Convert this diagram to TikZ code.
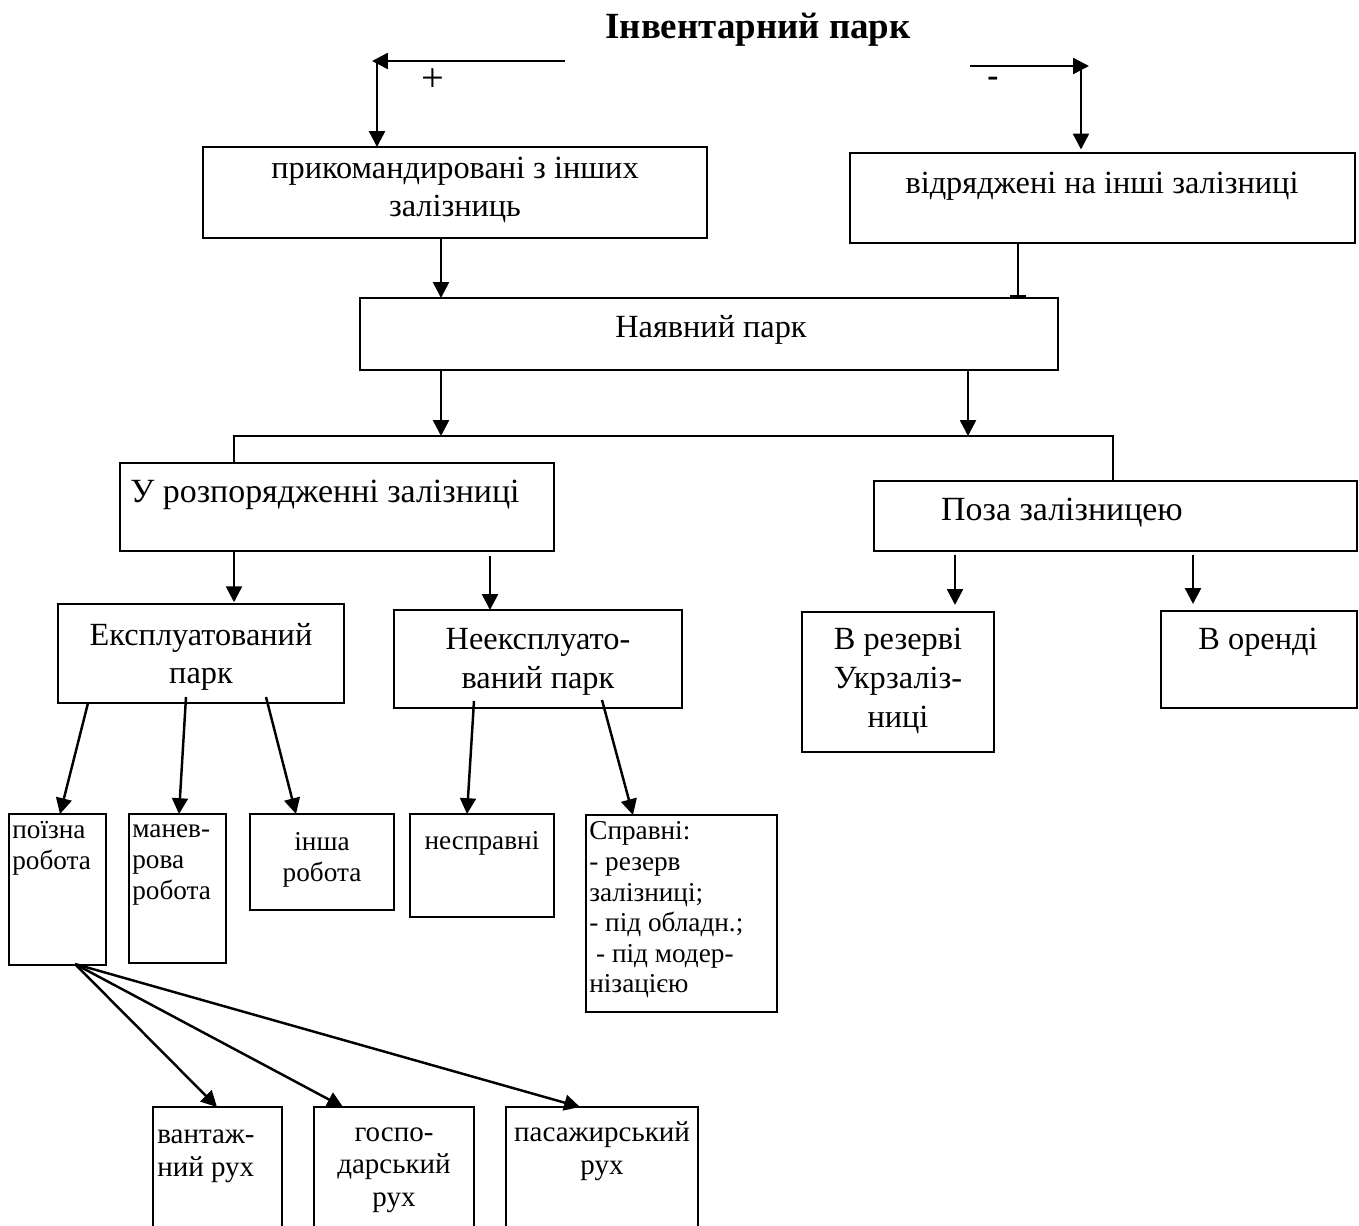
\documentclass[tikz,border=0pt]{standalone}
\usepackage{fontspec}
\setmainfont{Liberation Serif}
\usetikzlibrary{arrows.meta,calc}
\newcommand\mkbox[5]{\node[bx, minimum width={(#4-#2)*0.02cm}, minimum height={(#5-#3)*0.02cm}] (#1) at (#2,#3) {};}
\begin{document}
\begin{tikzpicture}[x=0.02cm,y=-0.02cm,
  bx/.style={draw, line width=1pt, rectangle, inner sep=0pt, outer sep=0pt, anchor=north west},
  arr/.style={line width=1.4pt, -{Triangle[length=9pt,width=9pt]}},
  ln/.style={line width=1.3pt},
  tt/.style={inner sep=0pt, align=center, font=\fontsize{18.4}{22}\selectfont},
  tl/.style={inner sep=0pt, align=center, font=\fontsize{19.3}{22}\selectfont},
  ts/.style={inner sep=0pt, font=\fontsize{15.5}{17.4}\selectfont},
  tb/.style={inner sep=0pt, font=\fontsize{16.5}{18.6}\selectfont}]
\useasboundingbox (0,0) rectangle (1359,1225);
\clip (0,0) rectangle (1359,1225);
% boxes
\mkbox{b1}{203}{147}{707}{238}
\mkbox{b2}{850}{153}{1355}{243}
\mkbox{b3}{360}{298}{1058}{370}
\mkbox{b4}{120}{463}{554}{551}
\mkbox{b5}{874}{481}{1357}{551}
\mkbox{b6}{58}{604}{344}{703}
\mkbox{b7}{394}{610}{682}{708}
\mkbox{b8}{802}{612}{994}{752}
\mkbox{b9}{1161}{611}{1357}{708}
\mkbox{b10}{9}{814}{106}{965}
\mkbox{b11}{129}{814}{226}{963}
\mkbox{b12}{250}{814}{394}{910}
\mkbox{b13}{410}{814}{554}{917}
\mkbox{b14}{586}{815}{777}{1012}
\mkbox{b15}{153}{1107}{282}{1250}
\mkbox{b16}{314}{1107}{474}{1250}
\mkbox{b17}{506}{1107}{698}{1250}
% texts
\node[inner sep=0pt, font=\bfseries\fontsize{21}{25}\selectfont] (title) at (758,30) {Інвентарний парк};
\node[inner sep=0pt, font=\fontsize{23}{25}\selectfont] (plus) at (433,80) {+};
\node[inner sep=0pt, font=\bfseries\fontsize{19}{20}\selectfont] (minus) at (993,82) {-};
\node[tt] (t1) at (455,190) {прикомандировані з інших\\залізниць};
\node[tt] (t2) at (1102,186) {відряджені на інші залізниці};
\node[tt] (t3) at (711,330) {Наявний парк};
\node[tl] (t4) at (325,495) {У розпорядженні залізниці};
\node[tl] (t5) at (1062,513) {Поза залізницею};
\node[tt] (t6) at (201,657) {Експлуатований\\парк};
\node[tt] (t7) at (538,662) {Неексплуато-\\ваний парк};
\node[tt] (t8) at (898,681) {В резерві\\Укрзаліз-\\ниці};
\node[tt] (t9) at (1258,642) {В оренді};
\node[ts, anchor=west, align=left] (t10) at (12,848) {поїзна\\робота};
\node[ts, anchor=west, align=left] (t11) at (132,865) {манев-\\рова\\робота};
\node[ts, align=center] (t12) at (322,860) {інша\\робота};
\node[ts] (t13) at (482,843) {несправні};
\node[ts, anchor=west, align=left] (t14) at (589,910) {Справні:\\- резерв\\залізниці;\\- під обладн.;\\\hspace*{0.25em}- під модер-\\нізацією};
\node[tb, anchor=west, align=left] (t15) at (157,1156) {вантаж-\\ний рух};
\node[tb, align=center] (t16) at (394,1170) {госпо-\\дарський\\рух};
\node[tb, align=center] (t17) at (602,1151) {пасажирський\\рух};
% top connectors
\coordinate (tlA) at (565,61);
\coordinate (tlB) at (372,61);
\coordinate (tlC) at (377,61);
\coordinate (trA) at (970,66);
\coordinate (trB) at (1089,66);
\coordinate (trC) at (1081,66);
\draw[arr] (tlA) -- (tlB);
\draw[arr] (tlC) -- (tlC |- b1.north);
\draw[arr] (trA) -- (trB);
\draw[arr, shorten >=2pt] (trC) -- (trC |- b2.north);
% columns
\coordinate (k441) at (441,0);
\coordinate (k968) at (968,0);
\coordinate (k1018) at (1018,0);
\coordinate (k490) at (490,0);
\coordinate (k955) at (955,0);
\coordinate (k1193) at (1193,0);
\coordinate (jl) at (234,436);
\coordinate (jr) at (1113,436);
\draw[arr] (k441 |- b1.south) -- (k441 |- b3.north);
\draw[ln, -{Bar[width=9pt,line width=1.6pt]}] (k1018 |- b2.south) -- (k1018 |- b3.north);
\draw[arr] (k441 |- b3.south) -- (k441 |- jl);
\draw[arr] (k968 |- b3.south) -- (k968 |- jr);
\draw[ln] (jl |- b4.north) -- (jl) -- (jr) -- (jr |- b5.north);
\draw[arr, shorten >=1pt] (jl |- b4.south) -- (jl |- b6.north);
\draw[arr, shorten <=3pt] (k490 |- b4.south) -- (k490 |- b7.north);
\draw[arr, shorten <=2pt, shorten >=4pt] (k955 |- b5.south) -- (k955 |- b8.north);
\draw[arr, shorten <=2pt, shorten >=4pt] (k1193 |- b5.south) -- (k1193 |- b9.north);
% diagonal connectors
\draw[arr] ($(b6.south west)+(30,0)$) -- ($(b10.north west)+(51,0)$);
\draw[arr] ($(b6.south west)+(128,-6)$) -- ($(b11.north west)+(50,0)$);
\draw[arr] ($(b6.south west)+(208,-6)$) -- ($(b12.north west)+(46,0)$);
\draw[arr] ($(b7.south west)+(80,-7)$) -- ($(b13.north west)+(57,0)$);
\draw[arr] ($(b7.south west)+(208,-8)$) -- ($(b14.north west)+(47,0)$);
\draw[arr] ($(b10.south west)+(66,-1)$) -- ($(b15.north west)+(64,0)$);
\draw[arr] ($(b10.south west)+(66,-1)$) -- ($(b16.north west)+(29,0)$);
\draw[arr] ($(b10.south west)+(66,-1)$) -- ($(b17.north west)+(74,0)$);
\end{tikzpicture}
\end{document}
